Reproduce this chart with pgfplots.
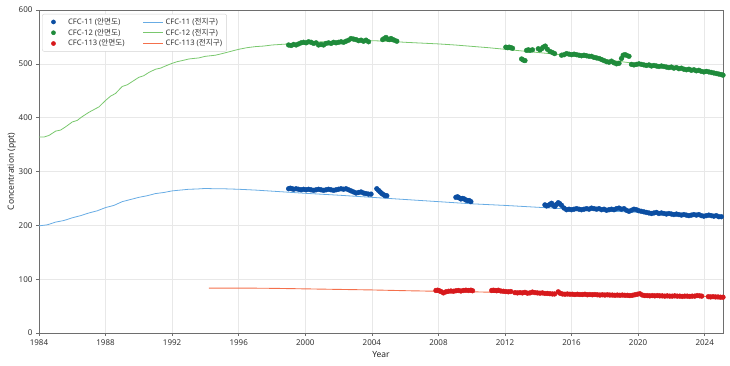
\documentclass[border=0pt]{standalone}
\usepackage{fontspec}
\setmainfont{Noto Sans}
\newfontfamily\kr{Noto Sans CJK KR}
\usepackage{pgfplots}
\pgfplotsset{compat=1.18}
\definecolor{obsA}{RGB}{11,78,162}
\definecolor{obsB}{RGB}{31,139,59}
\definecolor{obsC}{RGB}{215,25,28}
\definecolor{glA}{RGB}{104,172,228}
\definecolor{glB}{RGB}{122,200,110}
\definecolor{glC}{RGB}{244,112,76}
\definecolor{axgray}{RGB}{110,110,110}
\begin{document}
\begin{tikzpicture}
\path[use as bounding box] (-39pt,-32pt) rectangle (691pt,333pt);
\begin{axis}[
  scale only axis, width=684pt, height=323pt,
  xmin=1984, xmax=2025.1, ymin=0, ymax=600,
  xtick={1984,1988,...,2024}, ytick={0,100,...,600},
  /pgf/number format/1000 sep={},
  /pgf/number format/assume math mode=true,
  tick label style={font=\fontsize{8}{9}\selectfont, text=black!80},
  tick align=outside, tick pos=left, major tick length=3pt,
  tick style={axgray, line width=0.6pt},
  axis line style={axgray, line width=0.8pt},
  grid=major, grid style={gray!18, line width=0.6pt},
  xlabel={Year}, ylabel={Concentration (ppt)},
  label style={font=\fontsize{8.5}{10}\selectfont, text=black!85},
  xlabel style={yshift=1pt},
  ylabel style={yshift=-4pt},
  legend columns=2,
  legend style={at={(0.0045,0.988)}, anchor=north west, draw=gray!35, rounded corners=2pt,
    font=\fontsize{7.6}{8}\selectfont, text=black!80, inner xsep=2.5pt, inner ysep=2pt, row sep=-1pt,
    /tikz/column 1/.style={column sep=4pt},
    /tikz/column 2/.style={column sep=16pt},
    /tikz/column 3/.style={column sep=0pt}},
  legend cell align=left,
]
% global lines
\addplot[glB, line width=0.8pt, forget plot] coordinates {
(1984.0,364)(1984.3,364)(1984.6,367)(1985.0,375)(1985.3,377)(1985.6,383)(1986.0,392)(1986.3,395)(1986.6,402)
(1987.0,410)(1987.3,415)(1987.6,420)(1988.0,432)(1988.3,440)(1988.6,445)(1989.0,458)(1989.3,461)(1989.6,467)
(1990.0,475)(1990.3,478)(1990.6,484)(1991.0,490)(1991.3,492)(1991.6,496)(1992.0,501)(1992.3,504)(1992.6,506)
(1993.0,509)(1993.3,510)(1993.6,511)(1994.0,514)(1994.3,515)(1994.6,516)(1995.0,519)(1995.5,523)(1996.0,527)
(1996.5,530)(1997.0,532)(1997.5,533)(1998.0,535)(1998.5,536)(1999.0,537)(1999.5,538)(2000,539)(2001,541)
(2002,542)(2003,543)(2004,543)(2005,542)(2006,540)(2007,538.5)(2008,537)(2009,535)(2010,532.5)(2011,530)
(2012,527)(2013,524)(2014,521)(2015,518)(2016,515)(2017,512)(2018,508)(2019,504)(2020,500)(2021,496)
(2022,492)(2023,488)(2024,484)(2025.1,479)};
\addplot[glA, line width=0.8pt, forget plot] coordinates {
(1984.0,199)(1984.5,201)(1985.0,206)(1985.5,209)(1986.0,214)(1986.5,218)(1987.0,223)(1987.5,227)(1988.0,233)
(1988.5,237)(1989.0,244)(1989.5,248)(1990.0,252)(1990.5,255)(1991.0,259)(1991.5,261)(1992.0,264)(1992.5,265.5)
(1993.0,267)(1993.5,267.5)(1994.0,268.5)(1994.5,268)(1995.0,268)(1996,267)(1997,265.5)(1998,263.5)(1999,261.5)
(2000,259.5)(2002,256)(2004,252)(2006,248)(2008,244)(2010,240)(2012,237)(2014,233.5)(2016,230)(2018,227)
(2020,224)(2022,221)(2024,218)(2025.1,216)};
\addplot[glC, line width=0.9pt, forget plot] coordinates {
(1994.2,83.5)(1996,83.5)(1998,83)(2000,82)(2002,81)(2004,80)(2006,78.6)(2008,77.5)(2010,76.5)(2012,75.3)
(2014,74)(2016,72.6)(2018,71.3)(2020,70)(2022,69)(2024,68)(2025.1,67.5)};
% observations
\addplot[only marks, mark=*, mark size=2.4pt, obsA, forget plot] coordinates {
(1999.0,268)(1999.1,269)(1999.2,268)(1999.3,267)(1999.45,268)(1999.6,267)(1999.75,266)(1999.9,267)
(2000.05,266)(2000.2,267)(2000.35,266)(2000.5,265)(2000.65,266)(2000.8,267)(2000.95,266)(2001.1,265)
(2001.25,266)(2001.4,267)(2001.55,266)(2001.7,265)(2001.85,266)(2002.0,267)(2002.15,268)(2002.3,267)
(2002.45,268)(2002.6,266)(2002.75,264)(2002.9,262)(2003.05,260)(2003.2,261)(2003.35,262)(2003.5,260)
(2003.65,259)(2003.8,258)(2003.95,258)
(2004.3,268)(2004.4,265)(2004.5,262)(2004.6,259)(2004.7,257)(2004.8,255)(2004.9,255)
(2009.05,252)(2009.15,253)(2009.25,251)(2009.35,249)(2009.45,250)(2009.55,249)(2009.65,247)(2009.75,246)
(2009.85,246)(2009.95,244)
(2014.4,238)(2014.5,236)(2014.6,237)(2014.7,239)(2014.8,241)(2014.9,237)(2015.0,235)(2015.1,239)(2015.2,242)
(2015.3,240)(2015.4,237)(2015.55,232)(2015.7,229)(2015.85,230)(2016.0,229)(2016.15,230)(2016.3,231)
(2016.45,230)(2016.6,229)(2016.75,230)(2016.9,231)(2017.05,230)(2017.2,232)(2017.35,231)(2017.5,230)
(2017.65,231)(2017.8,229)(2017.95,230)(2018.1,228)(2018.25,229)(2018.4,230)(2018.55,229)(2018.7,231)
(2018.85,232)(2019.0,230)(2019.15,231)(2019.3,228)(2019.45,226)(2019.6,228)(2019.75,230)(2019.9,229)
(2020.05,227)(2020.2,226)(2020.35,225)(2020.5,224)(2020.65,223)(2020.8,222)(2020.95,223)(2021.1,224)
(2021.25,222)(2021.4,223)(2021.55,222)(2021.7,221)(2021.85,222)(2022.0,221)(2022.15,220)(2022.3,221)
(2022.45,220)(2022.6,219)(2022.75,220)(2022.9,219)(2023.05,218)(2023.2,219)(2023.35,220)(2023.5,219)
(2023.65,220)(2023.8,218)(2023.95,217)(2024.1,218)(2024.25,219)(2024.4,218)(2024.55,217)(2024.7,218)
(2024.85,216)(2025.0,216)};
\addplot[only marks, mark=*, mark size=2.4pt, obsB, forget plot] coordinates {
(1999.0,535)(1999.15,534)(1999.3,536)(1999.45,535)(1999.6,537)(1999.75,539)(1999.9,540)(2000.05,539)
(2000.2,541)(2000.35,540)(2000.5,538)(2000.65,539)(2000.8,535)(2000.95,536)(2001.1,535)(2001.25,538)
(2001.4,539)(2001.55,538)(2001.7,540)(2001.85,539)(2002.0,540)(2002.15,541)(2002.3,540)(2002.45,542)
(2002.6,544)(2002.75,547)(2002.9,546)(2003.05,545)(2003.2,543)(2003.35,544)(2003.5,542)(2003.65,544)
(2003.8,541)
(2004.65,545)(2004.75,547)(2004.85,549)(2004.95,546)(2005.05,545)(2005.15,547)(2005.25,545)(2005.35,544)
(2005.5,542)
(2012.05,531)(2012.15,530)(2012.25,531)(2012.35,530)(2012.45,529)(2013.0,509)(2013.1,507)(2013.2,506)
(2013.3,525)(2013.4,526)(2013.5,525)(2013.65,526)(2014.0,528)(2014.1,526)(2014.2,528)(2014.3,531)
(2014.42,533)(2014.55,527)(2014.7,523)(2014.85,521)(2014.98,519)
(2015.4,516)(2015.55,517)(2015.7,519)(2015.85,518)(2016.0,517)(2016.15,518)(2016.3,517)(2016.45,516)
(2016.6,515)(2016.75,516)(2016.9,515)(2017.05,514)(2017.2,514)(2017.35,512)(2017.5,511)(2017.65,510)
(2017.8,508)(2017.95,506)(2018.1,504)(2018.25,503)(2018.4,505)(2018.55,502)(2018.7,500)(2018.85,501)
(2019.0,510)(2019.1,516)(2019.2,517)(2019.3,516)(2019.45,514)(2019.6,499)(2019.75,498)(2019.9,499)
(2020.05,500)(2020.2,499)(2020.35,498)(2020.5,497)(2020.65,498)(2020.8,496)(2020.95,497)(2021.1,496)
(2021.25,495)(2021.4,496)(2021.55,495)(2021.7,494)(2021.85,493)(2022.0,494)(2022.15,492)(2022.3,493)
(2022.45,491)(2022.6,492)(2022.75,490)(2022.9,489)(2023.05,490)(2023.2,488)(2023.35,489)(2023.5,487)
(2023.65,488)(2023.8,486)(2023.95,485)(2024.1,486)(2024.25,485)(2024.4,484)(2024.55,483)(2024.7,482)
(2024.85,481)(2025.0,480)(2025.1,479)};
\addplot[only marks, mark=*, mark size=2.4pt, obsC, forget plot] coordinates {
(2007.85,79)(2007.95,79.5)(2008.05,78.5)(2008.15,77)(2008.3,74.5)(2008.45,76.5)(2008.6,77.5)(2008.75,78)
(2008.9,77.5)(2009.05,78.5)(2009.2,79)(2009.35,78)(2009.5,79)(2009.65,79.5)(2009.8,79)(2009.95,79.5)
(2010.05,78.5)
(2011.2,79)(2011.3,79.5)(2011.4,79)(2011.5,78.5)(2011.6,79.5)(2011.75,78)(2011.9,77.5)(2012.05,77)
(2012.2,76.5)(2012.35,77)
(2012.6,75)(2012.75,74.5)(2012.9,75)(2013.05,74.5)(2013.2,75.5)(2013.35,74)(2013.5,74.5)(2013.65,76)
(2013.8,75)(2013.95,74.5)(2014.1,74)(2014.25,74.5)(2014.4,73.5)(2014.55,73.5)(2014.7,73)(2014.85,72.5)
(2014.98,72.5)
(2015.2,76.5)(2015.3,74)(2015.45,72.5)(2015.6,72)(2015.75,72.5)(2015.9,72)(2016.05,72)(2016.2,71.5)
(2016.35,72)(2016.5,71.5)(2016.65,71.5)(2016.8,72)(2016.95,71)(2017.1,71.5)(2017.25,71)(2017.4,71.5)
(2017.55,71)(2017.7,70.5)(2017.85,71)(2018.0,70.5)(2018.15,71)(2018.3,70.5)(2018.45,70.5)(2018.6,70)
(2018.75,70.5)(2018.9,70)(2019.05,70.5)(2019.2,70)(2019.35,70)(2019.5,69.5)(2019.65,70)(2019.8,71)
(2019.95,72)(2020.1,73)(2020.25,70.5)(2020.4,69.5)(2020.55,69.5)(2020.7,69)(2020.85,69.5)(2021.0,69)
(2021.15,69.5)(2021.3,69)(2021.45,69)(2021.6,68.5)(2021.75,69)(2021.9,68.5)(2022.05,68.5)(2022.2,69)
(2022.35,68.5)(2022.5,68.5)(2022.65,68)(2022.8,68.5)(2022.95,68.5)(2023.1,68)(2023.25,68.5)(2023.4,68.5)
(2023.55,69.5)(2023.7,69)(2023.82,68.5)
(2024.22,67.5)(2024.35,67)(2024.5,67.5)(2024.65,67)(2024.8,67)(2024.95,66.5)(2025.1,66.5)};
% legend
\addlegendimage{legend image code/.code={\path (0pt,0pt) (17pt,0pt); \fill[obsA] (8.5pt,0pt) circle (2.1pt);}}
\addlegendentry{CFC-11 ({\kr 안면도})}
\addlegendimage{legend image code/.code={\draw[glA, line width=0.8pt] (0pt,0pt) -- (20pt,0pt);}}
\addlegendentry{CFC-11 ({\kr 전지구})}
\addlegendimage{legend image code/.code={\path (0pt,0pt) (17pt,0pt); \fill[obsB] (8.5pt,0pt) circle (2.1pt);}}
\addlegendentry{CFC-12 ({\kr 안면도})}
\addlegendimage{legend image code/.code={\draw[glB, line width=0.8pt] (0pt,0pt) -- (20pt,0pt);}}
\addlegendentry{CFC-12 ({\kr 전지구})}
\addlegendimage{legend image code/.code={\path (0pt,0pt) (17pt,0pt); \fill[obsC] (8.5pt,0pt) circle (2.1pt);}}
\addlegendentry{CFC-113 ({\kr 안면도})}
\addlegendimage{legend image code/.code={\draw[glC, line width=0.9pt] (0pt,0pt) -- (20pt,0pt);}}
\addlegendentry{CFC-113 ({\kr 전지구})}
\end{axis}
\end{tikzpicture}
\end{document}
